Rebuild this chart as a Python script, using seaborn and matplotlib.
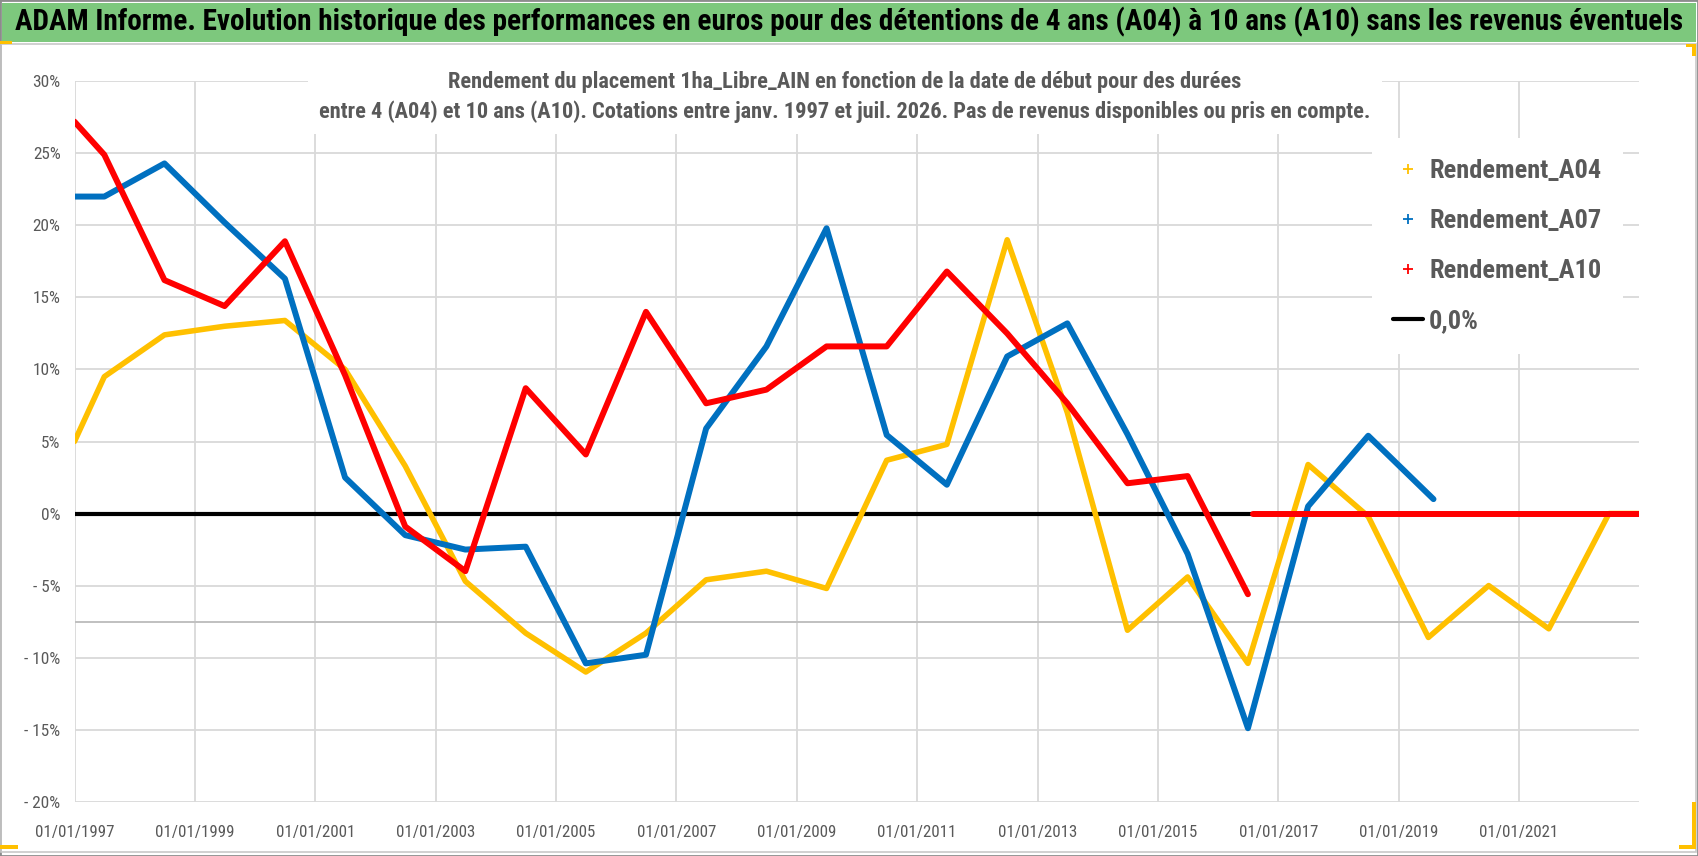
import matplotlib
matplotlib.use("Agg")
import matplotlib.pyplot as plt
from matplotlib import font_manager as fm
from matplotlib.lines import Line2D
from matplotlib.patches import Rectangle
import seaborn as sns
import pandas as pd

# ---------------- data (values in %) ----------------
dates_a04 = ["1997-01-01", "1997-07-01", "1998-07-01", "1999-07-01", "2000-07-01",
             "2001-07-01", "2002-07-01", "2003-07-01", "2004-07-01", "2005-07-01",
             "2006-07-01", "2007-07-01", "2008-07-01", "2009-07-01", "2010-07-01",
             "2011-07-01", "2012-07-01", "2013-07-01", "2014-07-01", "2015-07-01",
             "2016-07-01", "2017-07-01", "2018-07-01", "2019-07-01", "2020-07-01",
             "2021-07-01", "2022-07-01", "2023-01-01"]
rendement_a04 = [5.0, 9.5, 12.4, 13.0, 13.4, 10.0, 3.3, -4.7, -8.3, -11.0,
                 -8.3, -4.6, -4.0, -5.2, 3.7, 4.8, 19.0, 7.0, -8.1, -4.4,
                 -10.4, 3.4, -0.2, -8.6, -5.0, -8.0, 0.0, 0.0]

dates_a07 = ["1997-01-01", "1997-07-01", "1998-07-01", "1999-07-01", "2000-07-01",
             "2001-07-01", "2002-07-01", "2003-07-01", "2004-07-01", "2005-07-01",
             "2006-07-01", "2007-07-01", "2008-07-01", "2009-07-01", "2010-07-01",
             "2011-07-01", "2012-07-01", "2013-07-01", "2014-07-01", "2015-07-01",
             "2016-07-01", "2017-07-01", "2018-07-01", "2019-08-01"]
rendement_a07 = [22.0, 22.0, 24.3, 20.2, 16.3, 2.5, -1.5, -2.5, -2.3, -10.4,
                 -9.8, 5.9, 11.6, 19.8, 5.45, 2.0, 10.9, 13.2, 5.5, -2.8,
                 -14.9, 0.5, 5.4, 1.0]

dates_a10 = ["1997-01-01", "1997-07-01", "1998-07-01", "1999-07-01", "2000-07-01",
             "2001-07-01", "2002-07-01", "2003-07-01", "2004-07-01", "2005-07-01",
             "2006-07-01", "2007-07-01", "2008-07-01", "2009-07-01", "2010-07-01",
             "2011-07-01", "2012-07-01", "2013-07-01", "2014-07-01", "2015-07-01",
             "2016-07-01"]
rendement_a10 = [27.2, 24.9, 16.2, 14.4, 18.9, 9.6, -0.9, -4.0, 8.7, 4.1,
                 14.0, 7.65, 8.6, 11.6, 11.6, 16.8, 12.5, 7.65, 2.1, 2.6,
                 -5.6]
dates_a10_tail = ["2016-08-01", "2023-01-01"]
rendement_a10_tail = [0.0, 0.0]

dates_zero = ["1997-01-01", "2023-01-01"]
values_zero = [0.0, 0.0]

series_names = ["Rendement_A04", "Rendement_A07", "Rendement_A10", "0,0%"]

xtick_dates = ["1997-01-01", "1999-01-01", "2001-01-01", "2003-01-01", "2005-01-01",
               "2007-01-01", "2009-01-01", "2011-01-01", "2013-01-01", "2015-01-01",
               "2017-01-01", "2019-01-01", "2021-01-01"]
xtick_labels = ["01/01/1997", "01/01/1999", "01/01/2001", "01/01/2003", "01/01/2005",
                "01/01/2007", "01/01/2009", "01/01/2011", "01/01/2013", "01/01/2015",
                "01/01/2017", "01/01/2019", "01/01/2021"]
ytick_values = [-20, -15, -10, -5, 0, 5, 10, 15, 20, 25, 30]
ytick_labels = ["- 20%", "- 15%", "- 10%", "- 5%", "0%", "5%", "10%", "15%", "20%", "25%", "30%"]
extra_hline = -7.5

title = ("ADAM Informe. Evolution historique des performances en euros pour des "
         "détentions de 4 ans (A04) à 10 ans (A10) sans les revenus éventuels")
subtitle = ("Rendement du placement 1ha_Libre_AIN en fonction de la date de début pour des durées\n"
            "entre 4 (A04) et 10 ans (A10). Cotations entre janv. 1997 et juil. 2026. "
            "Pas de revenus disponibles ou pris en compte.")

# ---------------- style ----------------
C_A04, C_A07, C_A10 = "#FFC000", "#0070C0", "#FF0000"
GRAY_TXT = "#595959"
GRID = "#D9D9D9"
GREEN = "#7DC87D"
HANDLE = "#FFC000"

sns.set_theme(style="white")
avail = {f.name for f in fm.fontManager.ttflist}
COND = next((n for n in ["Liberation Sans Narrow", "DejaVu Sans Condensed",
                         "Roboto Condensed", "Open Sans Condensed", "Liberation Sans"]
             if n in avail), "DejaVu Sans")
plt.rcParams["font.family"] = [COND, "DejaVu Sans"]

W, H = 1698, 856
fig = plt.figure(figsize=(W / 100, H / 100), dpi=100)
fig.patch.set_facecolor("white")
renderer = fig.canvas.get_renderer()


def fit(text, target_px, **kw):
    t = fig.text(0, 0, text, fontsize=20, **kw)
    w = t.get_window_extent(renderer).width
    t.remove()
    return 20.0 * target_px / w


def fx(px):
    return px / W


def fy(py):
    return 1 - py / H


# ---------------- frame decorations ----------------
fig.add_artist(Rectangle((fx(2), fy(42)), fx(W - 4), 39 / H, transform=fig.transFigure,
                         facecolor=GREEN, edgecolor="none", zorder=0))
fig.add_artist(Rectangle((0, 0), 1, 1, transform=fig.transFigure, fill=False,
                         edgecolor="#8C8C8C", lw=2.0, zorder=0))
fig.add_artist(Rectangle((fx(1), fy(852)), fx(W - 3), (852 - 44) / H, transform=fig.transFigure,
                         fill=False, edgecolor="#C8C8C8", lw=1.2, zorder=0))
# selection handles
for (x0, y0, w0, h0) in [(0, 41, 12, 3), (0, 845, 18, 4), (1692, 44, 4, 12), (1686, 44, 10, 3),
                         (1692, 802, 4, 47), (1679, 845, 17, 4)]:
    fig.add_artist(Rectangle((fx(x0), fy(y0 + h0)), w0 / W, h0 / H, transform=fig.transFigure,
                             facecolor=HANDLE, edgecolor="none", zorder=1))

fs_title = fit(title, 1660, fontweight="bold")
fig.text(fx(15), fy(22), title, fontsize=fs_title, fontweight="bold", color="black",
         ha="left", va="center")

# ---------------- axes ----------------
ax_left, ax_right, ax_top, ax_bottom = 74.5, 1639.3, 81.3, 801.7
ax = fig.add_axes([fx(ax_left), fy(ax_bottom), fx(ax_right - ax_left), (ax_bottom - ax_top) / H])
ax.set_facecolor("white")

to_dt = pd.to_datetime
sns.lineplot(x=to_dt(dates_zero), y=values_zero, ax=ax, color="black", lw=3.0,
             zorder=3, legend=False)
sns.lineplot(x=to_dt(dates_a04), y=rendement_a04, ax=ax, color=C_A04, lw=4.0,
             zorder=4, legend=False)
sns.lineplot(x=to_dt(dates_a07), y=rendement_a07, ax=ax, color=C_A07, lw=4.3,
             zorder=5, legend=False)
sns.lineplot(x=to_dt(dates_a10), y=rendement_a10, ax=ax, color=C_A10, lw=4.3,
             zorder=6, legend=False)
sns.lineplot(x=to_dt(dates_a10_tail), y=rendement_a10_tail, ax=ax, color=C_A10, lw=4.3,
             zorder=6, legend=False)

ax.axhline(extra_hline, color="#C0C0C0", lw=1.4, zorder=1)

ax.set_xlim(to_dt("1997-01-01"), to_dt("2023-01-01"))
ax.set_ylim(-20, 30)
ax.set_xticks(to_dt(xtick_dates))
ax.set_xticklabels(xtick_labels)
ax.set_yticks(ytick_values)
ax.set_yticklabels(ytick_labels)
ax.set_xlabel("")
ax.set_ylabel("")
ax.grid(True, color=GRID, lw=1.3)
ax.set_axisbelow(True)
for s in ax.spines.values():
    s.set_visible(False)

fs_x = fit("01/01/1997", 79)
fs_y = fit("30%", 28)
ax.tick_params(axis="x", length=0, pad=17, labelsize=fs_x, labelcolor=GRAY_TXT)
ax.tick_params(axis="y", length=0, pad=10, labelsize=fs_y, labelcolor=GRAY_TXT)

# ---------------- subtitle ----------------
line2 = subtitle.split("\n")[1]
fs_sub = fit(line2, 1050, fontweight="bold")
sub_px = fs_sub / 0.72
fig.text(fx(845), fy(97), subtitle, fontsize=fs_sub, fontweight="bold", color=GRAY_TXT,
         ha="center", va="center", multialignment="center", linespacing=31 / sub_px,
         bbox=dict(facecolor="white", edgecolor="none", pad=8), zorder=10)

# ---------------- legend ----------------
fs_leg = fit("Rendement_A04", 172, fontweight="bold")
handles = [
    Line2D([0], [0], marker="+", linestyle="none", color=C_A04, markersize=7, markeredgewidth=1.3),
    Line2D([0], [0], marker="+", linestyle="none", color=C_A07, markersize=7, markeredgewidth=1.3),
    Line2D([0], [0], marker="+", linestyle="none", color=C_A10, markersize=7, markeredgewidth=1.3),
    Line2D([0], [0], color="black", lw=3.0),
]
leg_px = fs_leg / 0.72
leg = fig.legend(handles, series_names, loc="upper left",
                 bbox_to_anchor=(fx(1372), fy(138)), bbox_transform=fig.transFigure,
                 fontsize=fs_leg, frameon=True, facecolor="white", edgecolor="none",
                 framealpha=1.0, handlelength=30 / leg_px, handletextpad=6 / leg_px,
                 labelspacing=(52.5 - leg_px * 1.0) / leg_px, borderpad=0.8,
                 borderaxespad=0)
for t in leg.get_texts():
    t.set_color(GRAY_TXT)
    t.set_fontweight("bold")
leg.set_zorder(10)

fig.savefig("out.png", dpi=100)
